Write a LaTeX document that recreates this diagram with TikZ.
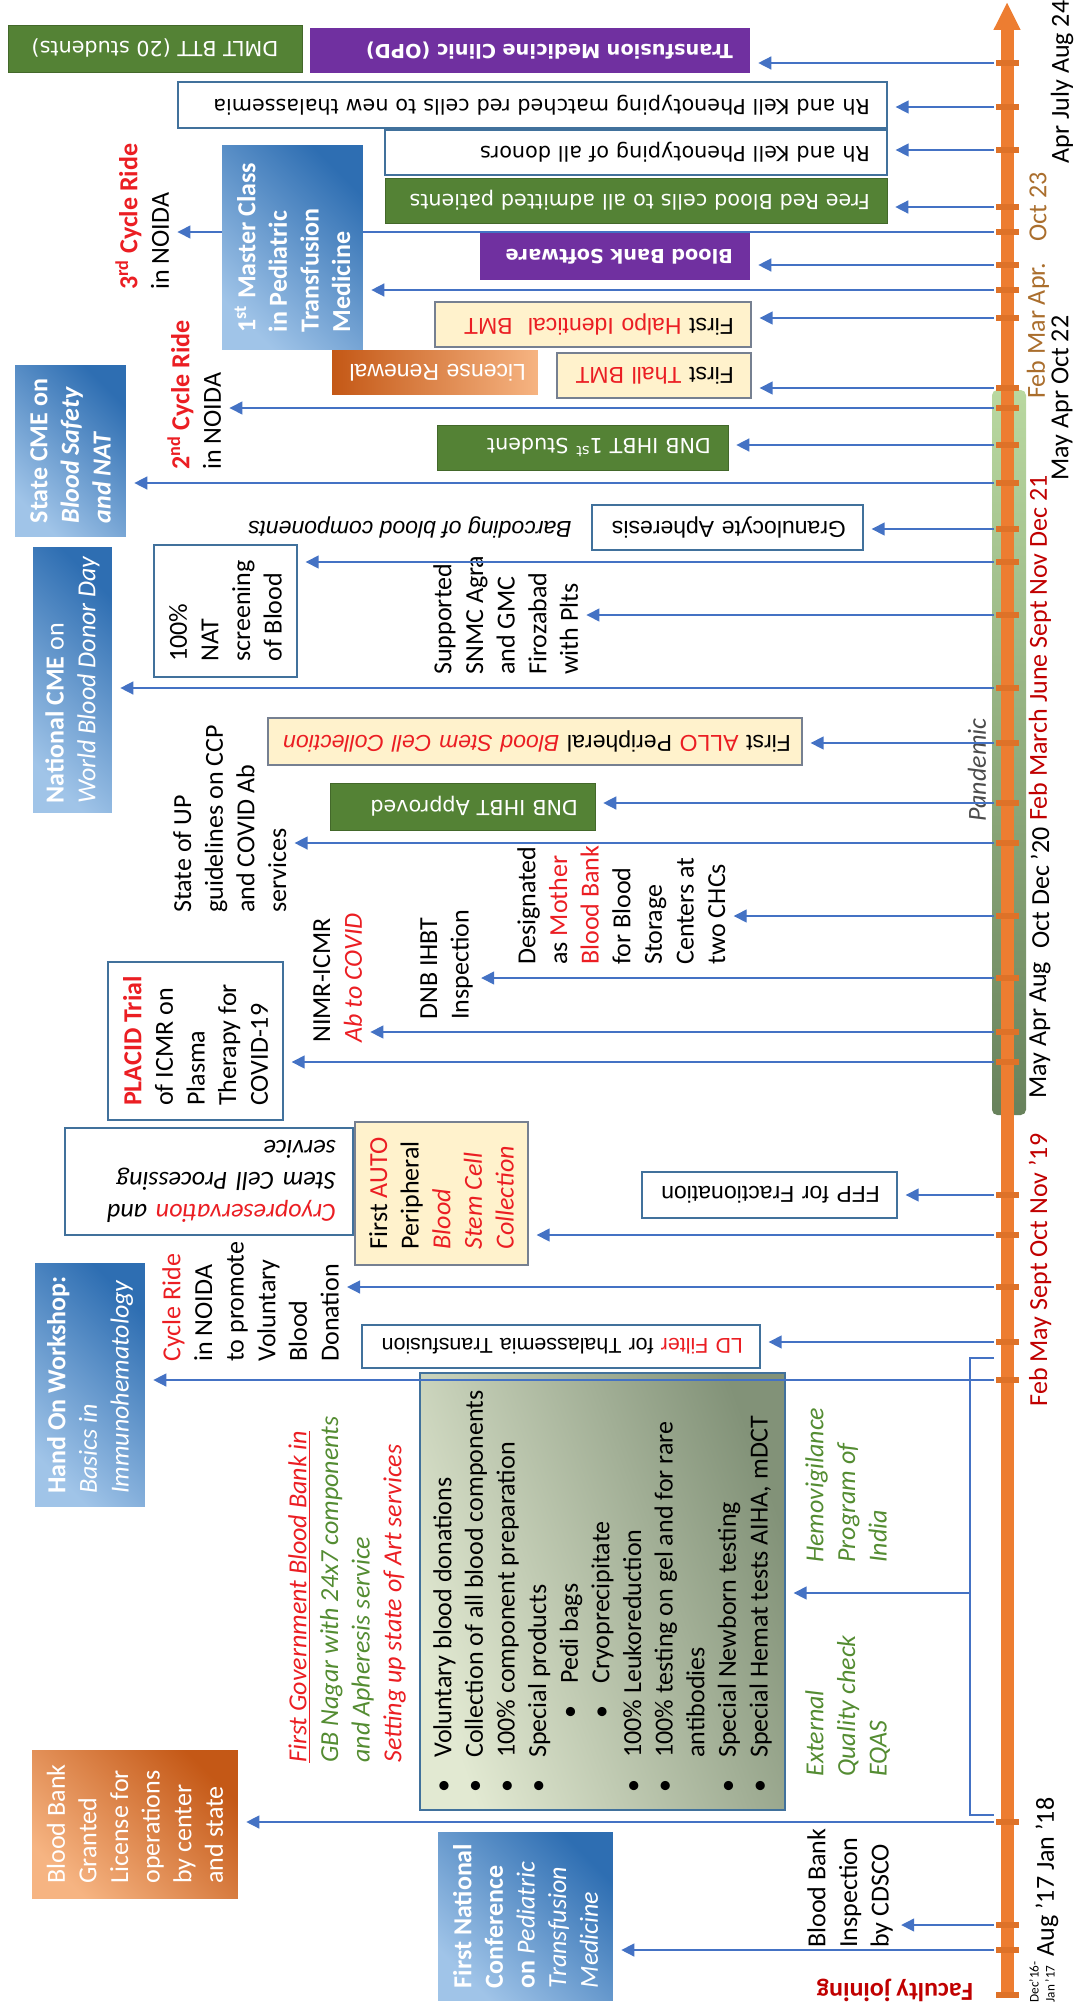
\documentclass[tikz,border=0pt]{standalone}
\usepackage{fontspec}
\setmainfont{Carlito}
\newfontfamily\verdfont{DejaVu Sans}
\newfontfamily\arialfont{Liberation Sans}
\usetikzlibrary{arrows.meta,positioning}
\definecolor{tlorange}{RGB}{237,125,49}
\definecolor{tltick}{RGB}{222,114,40}
\definecolor{linkblue}{RGB}{68,114,196}
\definecolor{boxline}{RGB}{65,113,156}
\definecolor{creamline}{RGB}{118,128,145}
\definecolor{cream}{RGB}{255,242,204}
\definecolor{bbgreen}{RGB}{84,130,53}
\definecolor{bbpurple}{RGB}{112,48,160}
\definecolor{hotred}{RGB}{235,30,35}
\definecolor{datered}{RGB}{192,0,0}
\definecolor{datebrown}{RGB}{170,110,45}
\definecolor{txtgreen}{RGB}{84,140,50}
\definecolor{blueL}{RGB}{160,196,232}
\definecolor{blueD}{RGB}{46,110,178}
\definecolor{orangeL}{RGB}{246,180,130}
\definecolor{orangeD}{RGB}{196,88,22}
\definecolor{sageL}{RGB}{226,233,210}
\definecolor{sageD}{RGB}{130,146,120}
\definecolor{pandL}{RGB}{185,216,160}
\definecolor{pandD}{RGB}{104,130,92}
\newcommand\txtsz{\fontsize{14.8}{18}\selectfont}
\newcommand\vsz{\verdfont\fontsize{11.8}{14}\selectfont}
\newcommand\vbsz{\verdfont\bfseries\fontsize{11}{13}\selectfont}
\newcommand\asz{\arialfont\fontsize{13.1}{15}\selectfont}
\newcommand\bul{\makebox[0.7cm][l]{\textbullet}}

\begin{document}
\begin{tikzpicture}[x=0.02cm, y=-0.02cm,
  vlabel/.style={rotate=90, anchor=north west, inner sep=0pt, align=left, font=\txtsz},
  vpanel/.style={rotate=90, align=left, inner sep=1pt, font=\txtsz},
  bluepanel/.style={vpanel, top color=blueD, bottom color=blueL, shading angle=-45, text=white},
  orangepanel/.style={vpanel, top color=orangeD, bottom color=orangeL, shading angle=-45, text=white},
  whitepanel/.style={vpanel, draw=boxline, line width=0.8pt, fill=white},
  creampanel/.style={vpanel, draw=creamline, line width=0.8pt, fill=cream},
  flatpanel/.style={rotate=180, inner xsep=0.34cm, inner ysep=0pt, align=left},
  flatwhite/.style={flatpanel, draw=boxline, line width=0.8pt, fill=white, font=\vsz},
  flatcream/.style={flatpanel, draw=creamline, line width=0.8pt, fill=cream, font=\asz},
  flatgreen/.style={flatpanel, fill=bbgreen, draw=bbgreen!80!black, text=white, font=\vsz},
  flatpurple/.style={flatpanel, fill=bbpurple, text=white, font=\vbsz},
  datelbl/.style={rotate=90, inner sep=0pt, font=\txtsz},
  evt/.style={draw=linkblue, line width=0.8pt, -{Triangle[length=2.6mm,width=2.6mm]}, shorten >=1.6mm},
  tickmark/.style={draw=tltick, line width=0.13cm}]
\useasboundingbox (0,0) rectangle (1085,2011);

% pandemic band and time axis
\shade[top color=pandL, bottom color=pandD, rounded corners=3pt] (992,390) rectangle (1026,1115);
\node[rotate=90, inner sep=0pt, font=\txtsz\itshape, text=black!70] (pandemic) at (977,770) {Pandemic};
\coordinate (tlbot) at (1007,1995);
\coordinate (tltop) at (1007,2);
\draw[tlorange, line width=0.26cm, -{Triangle[length=0.56cm,width=0.5cm]}] (tlbot) -- (tltop);
\draw[tickmark] (996,1995) -- (1019,1995);
\foreach \t in {63,107,150,207,232,265,290,318,388,408,445,483,529,562,615,688,743,803,843,916,978,1032,1062,1195,1235,1287,1342,1380,1822,1925,1950} {
  \coordinate (t\t) at (994,\t);
  \draw[tickmark] (996,\t) -- (1019,\t);
}

% dates
\node[datelbl] (dAug24) at (1062,82) {Apr July Aug 24};
\node[datelbl, text=datebrown] (dOct23) at (1038,207) {Oct 23};
\node[datelbl, text=datebrown] (dApr23) at (1038,331) {Feb Mar Apr.};
\node[datelbl] (dOct22) at (1062,398) {May Apr Oct 22};
\node[datelbl, text=datered] (dDec21) at (1040,648) {Feb March June Sept Nov Dec 21};
\node[datelbl] (dDec20) at (1040,888) {Oct Dec '20};
\node[datelbl] (dAug20) at (1040,1030) {May Apr Aug};
\node[datelbl, text=datered] (dNov19) at (1040,1270) {Feb May Sept Oct Nov '19};
\node[datelbl] (dJan18) at (1047,1877) {Aug '17 Jan '18};
\node[datelbl, align=left, font=\fontsize{7.5}{9}\selectfont] (dJan17) at (1042,1982) {Dec'16-\\Jan '17};
\node[rotate=180, inner sep=0pt, font=\txtsz\bfseries, text=datered] (faculty) at (895,1990) {Faculty joining};

% 2022-2024
\node[flatgreen, align=center, minimum width=5.88cm, minimum height=0.94cm] (dmlt) at (155,48.5) {DMLT BTT (20 students)};
\node[flatpurple, text width=8.12cm, minimum height=0.9cm] (opd) at (530,50.5) {Transfusion Medicine Clinic (OPD)};
\node[flatwhite, text width=13.5cm, minimum height=0.92cm] (rhnew) at (532.5,105) {Rh and Kell Phenotyping matched red cells to new thalassemia};
\node[flatwhite, text width=9.36cm, minimum height=0.9cm] (rhall) at (636,152.5) {Rh and Kell Phenotyping of all donors};
\node[flatgreen, text width=9.36cm, minimum height=0.9cm] (freerbc) at (636,200.5) {Free Red Blood cells to all admitted patients};
\node[vlabel, font=\txtsz] (ride3) at (115,290) {\textcolor{hotred}{\bfseries 3\textsuperscript{rd} Cycle Ride}\\in NOIDA};
\draw[evt] (t232) -- (t232 -| ride3.south);
\node[bluepanel, font=\txtsz\bfseries, minimum width=4.1cm, minimum height=2.82cm] (master) at (292.5,247.5) {1\textsuperscript{st} Master Class\\in Pediatric\\Transfusion\\Medicine};
\node[flatpurple, text width=4.72cm, minimum height=0.94cm] (bbsoft) at (615,256.5) {Blood Bank Software};
\node[flatcream, text width=5.64cm, minimum height=0.9cm] (halpo) at (593,324.5) {First \textcolor{hotred}{Halpo Identical\ \ BMT}};
\node[flatcream, text width=3.2cm, minimum height=0.9cm] (thall) at (654,375.5) {First \textcolor{hotred}{Thall BMT}};
\node[flatpanel, left color=orangeD, right color=orangeL, text=white, font=\asz, inner xsep=0.24cm, text width=3.64cm, minimum height=0.9cm] (license) at (435,372.5) {License Renewal};
\node[vlabel, font=\txtsz] (ride2) at (167,470) {\textcolor{hotred}{\bfseries 2\textsuperscript{nd} Cycle Ride}\\in NOIDA};
\node[flatgreen, text width=5.14cm, minimum height=0.9cm] (dnbstud) at (582.5,447.5) {DNB IHBT 1\textsuperscript{st} Student};
\node[bluepanel, font=\txtsz\bfseries, minimum width=3.44cm, minimum height=2.22cm] (statecme) at (70.5,451) {State CME on\\\itshape Blood Safety\\\itshape and NAT};

% 2020-2021
\node[flatwhite, font=\asz, text width=4.74cm, minimum height=0.9cm] (granulo) at (727.5,527.5) {Granulocyte Apheresis};
\node[rotate=180, anchor=west, inner sep=0pt, font=\asz\itshape] (barcode) at (572,527) {Barcoding of blood components};
\node[whitepanel, minimum width=2.64cm, minimum height=2.86cm] (nat100) at (225.5,611) {100\%\\NAT\\screening\\of Blood};
\node[vlabel] (snmc) at (433,675) {Supported\\SNMC Agra\\and GMC\\Firozabad\\with Plts};
\node[bluepanel, minimum width=5.32cm, minimum height=1.58cm] (natcme) at (72.5,680) {\textbf{National CME} on\\\itshape World Blood Donor Day};
\node[flatcream, inner xsep=0.22cm, text width=10.24cm, minimum height=0.94cm] (allo) at (535,741.5) {First \textcolor{hotred}{ALLO} Peripheral \textcolor{hotred}{\itshape Blood Stem Cell Collection}};
\node[flatgreen, text width=4.62cm, minimum height=0.94cm] (dnbappr) at (462.5,806.5) {DNB IHBT Approved};
\node[vlabel] (upguide) at (173,913) {State of UP\\guidelines on CCP\\and COVID Ab\\services};
\node[vlabel] (mother) at (517,965) {Designated\\as \textcolor{hotred}{Mother}\\\textcolor{hotred}{Blood Bank}\\for Blood\\Storage\\Centers at\\two CHCs};
\node[vlabel] (dnbinsp) at (420,1020) {DNB IHBT\\Inspection};
\node[vlabel] (nimr) at (313,1043) {NIMR-ICMR\\\textcolor{hotred}{\itshape Ab to COVID}};
\node[whitepanel, minimum width=3.16cm, minimum height=3.5cm] (placid) at (195.5,1041) {\textcolor{hotred}{\bfseries PLACID Trial}\\of ICMR on\\Plasma\\Therapy for\\COVID-19};

% 2017-2019
\node[flatwhite, font=\asz, text width=4.42cm, minimum height=0.92cm] (ffp) at (769.5,1195) {FFP for Fractionation};
\node[flatwhite, font=\txtsz\itshape, text width=5.08cm, minimum height=2.14cm] (cryo) at (209,1181.5) {\textcolor{hotred}{Cryopreservation} and\\Stem Cell Processing\\service};
\node[creampanel, minimum width=2.86cm, minimum height=3.46cm] (auto) at (441.5,1193.5) {First \textcolor{hotred}{AUTO}\\Peripheral\\\textcolor{hotred}{\itshape Blood}\\\textcolor{hotred}{\itshape Stem Cell}\\\textcolor{hotred}{\itshape Collection}};
\node[vlabel] (ride1) at (162,1362) {\textcolor{hotred}{Cycle Ride}\\in NOIDA\\to promote\\Voluntary\\Blood\\Donation};
\node[flatwhite, font=\arialfont\fontsize{12.2}{14}\selectfont, text width=7.28cm, minimum height=0.86cm] (ldfilter) at (561,1346.5) {\textcolor{hotred}{LD Filter} for Thalassemia Transfusion};
\node[bluepanel, minimum width=4.88cm, minimum height=2.2cm] (handon) at (90,1385) {\textbf{Hand On Workshop:}\\\itshape Basics in\\\itshape Immunohematology};
\node[vpanel, draw=boxline, line width=0.8pt, top color=sageD, bottom color=sageL, shading angle=-70, minimum width=8.74cm, minimum height=7.3cm] (bigbox) at (602.5,1591.5) {\bul Voluntary blood donations\\
\bul Collection of all blood components\\
\bul 100\% component preparation\\
\bul Special products\\
\hspace*{1.48cm}\bul Pedi bags\\
\hspace*{1.48cm}\bul Cryoprecipitate\\
\bul 100\% Leukoreduction\\
\bul 100\% testing on gel and for rare\\
\hspace*{0.7cm}antibodies\\
\bul Special Newborn testing\\
\bul Special Hemat tests AIHA, mDCT};
\node[vlabel, font=\txtsz\itshape] (govt) at (288,1763) {\textcolor{hotred}{\underline{First Government Blood Bank in}}\\\textcolor{txtgreen}{GB Nagar with 24x7 components}\\\textcolor{txtgreen}{and Apheresis service}\\\textcolor{hotred}{Setting up state of Art services}};
\node[vlabel, font=\txtsz\itshape, text=txtgreen] (hemo) at (805,1563) {Hemovigilance\\Program of\\India};
\node[vlabel, font=\txtsz\itshape, text=txtgreen] (eqas) at (805,1777) {External\\Quality check\\EQAS};
\node[orangepanel, minimum width=2.96cm, minimum height=4.12cm] (granted) at (135,1824) {Blood Bank\\Granted\\License for\\operations\\by center\\and state};
\node[vlabel] (cdsco) at (807,1948) {Blood Bank\\Inspection\\by CDSCO};
\node[bluepanel, minimum width=3.36cm, minimum height=3.5cm] (conf) at (525.5,1916) {\textbf{First National}\\\textbf{Conference}\\\textbf{on} \textit{Pediatric}\\\textit{Transfusion}\\\textit{Medicine}};

% connectors
\draw[evt] (t63) -- (t63 -| opd.west);
\draw[evt] (t107) -- (t107 -| rhnew.west);
\draw[evt] (t150) -- (t150 -| rhall.west);
\draw[evt] (t207) -- (t207 -| freerbc.west);
\draw[evt] (t265) -- (t265 -| bbsoft.west);
\draw[evt] (t290) -- (t290 -| master.south);
\draw[evt] (t318) -- (t318 -| halpo.west);
\draw[evt] (t388) -- (t388 -| thall.west);
\draw[evt] (t408) -- (t408 -| ride2.south);
\draw[evt] (t445) -- (t445 -| dnbstud.west);
\draw[evt] (t483) -- (t483 -| statecme.south);
\draw[evt] (t529) -- (t529 -| granulo.west);
\draw[evt] (t562) -- (t562 -| nat100.south);
\draw[evt] (t615) -- (t615 -| snmc.south);
\draw[evt] (t688) -- (t688 -| natcme.south);
\draw[evt] (t743) -- (t743 -| allo.west);
\draw[evt] (t803) -- (t803 -| dnbappr.west);
\draw[evt] (t843) -- (t843 -| upguide.south);
\draw[evt] (t916) -- (t916 -| mother.south);
\draw[evt] (t978) -- (t978 -| dnbinsp.south);
\draw[evt] (t1032) -- (t1032 -| nimr.south);
\draw[evt] (t1062) -- (t1062 -| placid.south);
\draw[evt] (t1195) -- (t1195 -| ffp.west);
\draw[evt] (t1235) -- (t1235 -| auto.south);
\draw[evt] (t1287) -- (t1287 -| ride1.south);
\draw[evt] (t1342) -- (t1342 -| ldfilter.west);
\draw[evt] (t1380) -- (t1380 -| handon.south);
\draw[evt] (t1822) -- (t1822 -| granted.south);
\draw[evt] (t1925) -- (t1925 -| cdsco.south);
\draw[evt] (t1950) -- (t1950 -| conf.south);
\coordinate (brtop) at (994,1358);
\coordinate (brbot) at (994,1815);
\coordinate (brmid) at (970,1593);
\draw[linkblue, line width=0.8pt] (brtop) -- ++(-24,0) |- (brbot);
\draw[evt] (brmid) -- (brmid -| bigbox.south);
\end{tikzpicture}
\end{document}
